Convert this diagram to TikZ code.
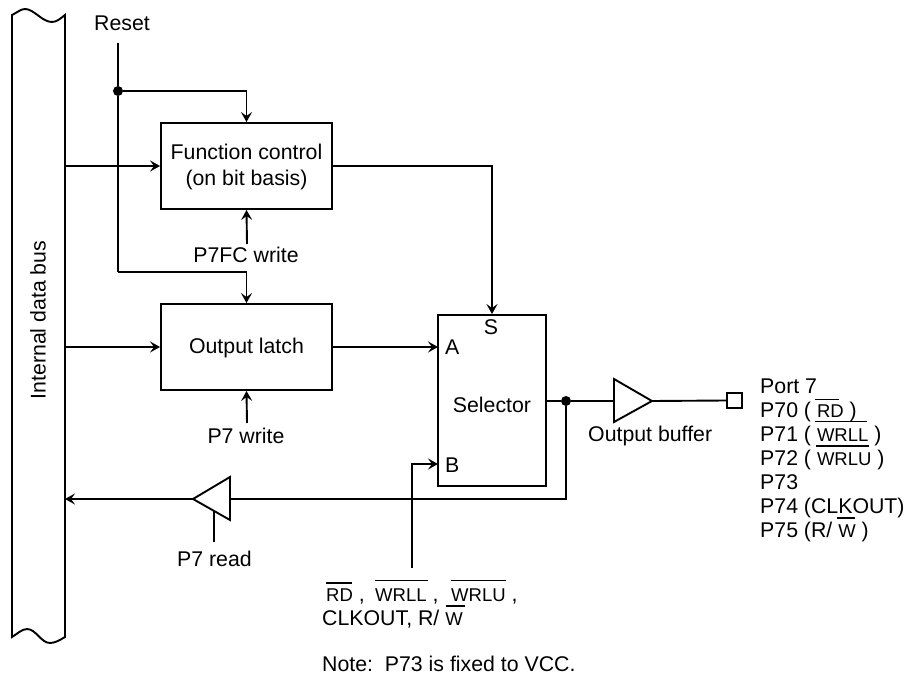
\documentclass[tikz,border=0pt]{standalone}
\usepackage{fontspec}
\setmainfont{Liberation Sans}
\usetikzlibrary{arrows.meta}
\newcommand{\ovt}[1]{{\fontsize{18.5}{18.5}\selectfont #1}}
\newcommand{\lowr}[1]{\raisebox{-6.5pt}[0pt][0pt]{#1}}
\tikzset{
  wire/.style={line width=1.9pt},
  arr/.style={wire,-{Stealth[length=10pt,width=11pt,inset=4pt]}},
  boxn/.style={draw,line width=1.9pt,inner sep=0pt,align=center,font=\fontsize{21.3}{26.5}\selectfont},
  txt/.style={inner sep=0pt,anchor=base west,font=\fontsize{21.3}{24}\selectfont},
  ctxt/.style={txt,anchor=base},
  bar/.style={line width=1.3pt},
  dot/.style={circle,fill=black,inner sep=0pt,minimum size=10pt},
  tri/.style={line width=1.9pt,fill=white,line join=miter},
}
\begin{document}
\begin{tikzpicture}[x=1pt,y=-1pt]
\useasboundingbox (0,0) rectangle (906,677);
% bus
\draw[line width=1.9pt,fill=white] (12,15) .. controls (18,12) and (21,9) .. (25,9)
  .. controls (34,9) and (42,22) .. (52,22) .. controls (57,22) and (61,18) .. (65,15)
  -- (65,637) .. controls (60,640) and (55,643) .. (50,643)
  .. controls (41,643) and (36,629) .. (27,629) .. controls (22,629) and (17,634) .. (12,637) -- cycle;
\node[txt,anchor=center,rotate=90] (busl) at (38,320) {Internal data bus};
\coordinate (busf) at (65,166);
\coordinate (busl1) at (65,347);
\coordinate (busr) at (65,499);
% boxes
\node[boxn,minimum width=171pt,minimum height=86pt] (func) at (246.5,166) {\lowr{Function control}\\\lowr{(on bit basis)}};
\node[boxn,minimum width=171pt,minimum height=86pt] (latch) at (246.5,347) {\lowr{Output latch}};
\node[boxn,minimum width=108pt,minimum height=171pt] (sel) at (492,400.5) {};
\node[txt,anchor=center] (sellabel) at (492,405) {Selector};
\node[ctxt] (slabel) at (491,334) {S};
\node[txt] (alabel) at (445,354) {A};
\node[txt] (blabel) at (445,472) {B};
% reset
\node[txt] (reset) at (94,31) {Reset};
\coordinate (rtop) at (118,43);
\node[dot] (j1) at (118,91) {};
\coordinate (rbend) at (118,272);
\draw[wire] (rtop) -- (j1) -- (rbend);
\draw[arr] (j1) -| (func.north);
\draw[arr] (rbend) -| (latch.north);
\draw[arr] (busf) -- (func.west);
\draw[arr] (busl1) -- (latch.west);
% write controls
\node[ctxt] (fcw) at (246,262) {P7FC write};
\node[ctxt] (p7w) at (246,443) {P7 write};
\coordinate (fcwt) at (247,244);
\coordinate (p7wt) at (247,423);
\draw[arr] (fcwt) -- (func.south);
\draw[arr] (p7wt) -- (latch.south);
% to selector
\coordinate (sA) at (438,347);
\coordinate (sB) at (438,464);
\draw[arr] (func.east) -| (sel.north);
\draw[arr] (latch.east) -- (sA);
\coordinate (bbot) at (412,568);
\draw[arr] (bbot) |- (sB);
% output
\node[dot] (j2) at (566,401) {};
\coordinate (selout) at (546,401);
\coordinate (bufin) at (614,401);
\coordinate (bufup) at (614,379);
\coordinate (bufdn) at (614,422);
\coordinate (bufout) at (652,401);
\node[draw,line width=2.4pt,minimum size=15pt,inner sep=0pt] (pad) at (734.5,400.5) {};
\draw[wire] (selout) -- (j2) -- (bufin);
\draw[tri] (bufup) -- (bufout) -- (bufdn) -- cycle;
\draw[wire] (bufout) -- (pad.west);
\node[txt] (obuf) at (588,441) {Output buffer};
% read back
\coordinate (rturn) at (566,499);
\coordinate (rbin) at (230,499);
\coordinate (rbup) at (230,477);
\coordinate (rbdn) at (230,520);
\coordinate (rbout) at (193,499);
\coordinate (rctl) at (214,542);
\coordinate (rctltop) at (214,511);
\draw[wire] (j2) |- (rbin);
\draw[tri] (rbup) -- (rbout) -- (rbdn) -- cycle;
\draw[arr] (rbout) -- (busr);
\draw[wire] (rctl) -- (rctltop);
\node[txt] (p7r) at (177,566) {P7 read};
% port list
\node[txt] (p0) at (760,393) {Port 7};
\node[txt] (p1) at (760,417) {P70 ( \ovt{RD} )};
\node[txt] (p2) at (760,441) {P71 ( \ovt{WRLL} )};
\node[txt] (p3) at (760,465) {P72 ( \ovt{WRLU} )};
\node[txt] (p4) at (760,489) {P73};
\node[txt] (p5) at (760,513) {P74 (CLKOUT)};
\node[txt] (p6) at (760,537) {P75 (R/ \ovt{W} )};
\draw[bar] (815,399.5) -- (839,399.5);
\draw[bar] (815,421.5) -- (867,421.5);
\draw[bar] (816,446) -- (869,446);
\draw[bar] (837,518) -- (855,518);
% bottom signals
\node[txt] (s1) at (326,601) {\ovt{RD} ,};
\node[txt] (s2) at (375,601) {\ovt{WRLL} ,};
\node[txt] (s3) at (451,601) {\ovt{WRLU} ,};
\node[txt] (s4) at (322,625) {CLKOUT, R/ \ovt{W}};
\draw[bar] (326,583) -- (352,583);
\draw[bar] (375,580.5) -- (428,580.5);
\draw[bar] (451,580.5) -- (506,580.5);
\draw[bar] (446,606) -- (465,606);
\node[txt] (note) at (322,671) {Note:\ \ P73 is fixed to VCC.};
\end{tikzpicture}
\end{document}
